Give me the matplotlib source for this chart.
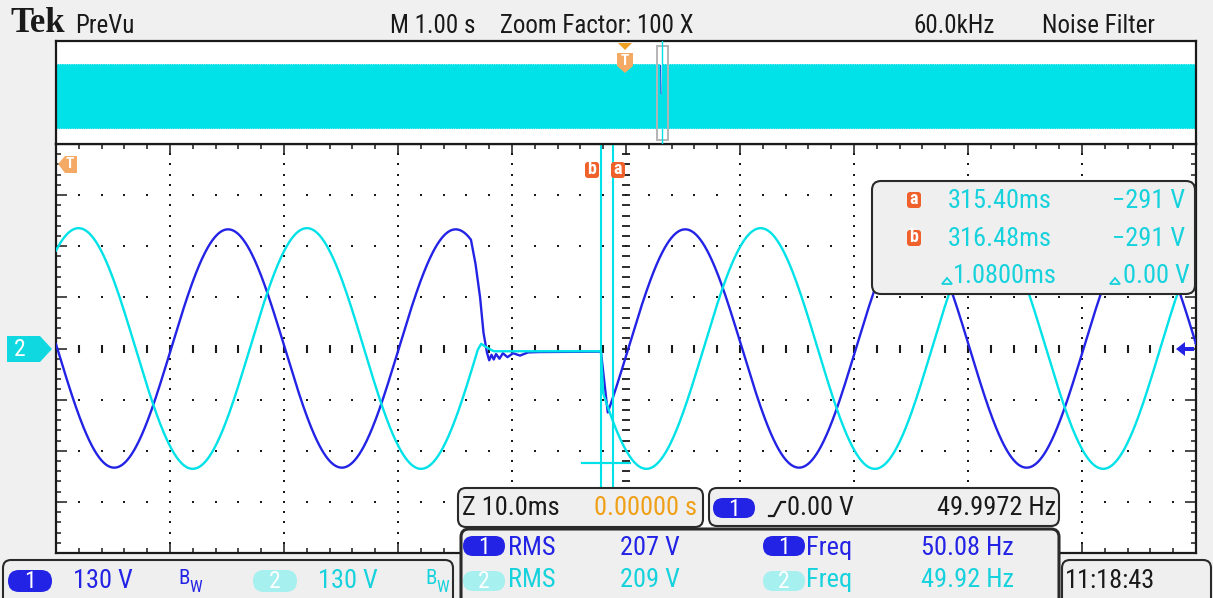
"""
Tek PreVu screen: two 50 Hz channels with a ~12 ms dropout, zoomed 100x.
"""

import numpy as np
import matplotlib
matplotlib.use('Agg')
import matplotlib.pyplot as plt
from matplotlib.patches import FancyBboxPatch, Polygon, Rectangle
from matplotlib import font_manager

# ── signal data (time in ms after trigger, volts) ─────────────────────────
ZOOM_SPAN_MS = [267.6, 367.6]        # 10 div x 10.0 ms
RECORD_SPAN_MS = [-5000.0, 5000.0]   # 10 div x 1.00 s
MS_PER_DIV = 10.0
VOLTS_PER_DIV = 130.0

CH1_FREQ_HZ = 50.08
CH1_PEAK_V = 303.0
CH1_ZERO_UP_MS = [277.7, 317.8]                  # rising zero, before / after dropout
CH1_SINE_SPANS_MS = [(-5000.0, 304.0), (316.0, 5000.0)]
CH1_GAP_T_MS = [304.4, 304.8, 305.1, 305.4, 305.6, 305.8, 306.0, 306.2, 306.5,
                306.8, 307.2, 307.7, 308.3, 309.0, 310.0, 315.4]
CH1_GAP_V = [215, 130, 40, -10, -30, -16, -28, -14, -26, -12, -22, -12, -18,
             -10, -9, -8]

CH2_FREQ_HZ = 49.92
CH2_PEAK_V = 306.0
CH2_ZERO_UP_MS = [284.6, 324.4]
CH2_SINE_SPANS_MS = [(-5000.0, 304.6), (315.6, 5000.0)]
CH2_GAP_T_MS = [304.9, 305.3, 306.0, 315.4]
CH2_GAP_V = [12, 4, -7, -7]

CURSOR_T_MS = [315.40, 316.48]
CURSOR_V = [-291.0, -291.0]

CH1_RMS_V, CH2_RMS_V = 207, 209
TRIG_FREQ_HZ = 49.9972

# ── style ─────────────────────────────────────────────────────────────────
W, H = 1213, 598
BG = '#f0f0f0'
BOX = '#efefef'
INK = '#1a1a1a'
CH1 = '#2323e6'
CH2 = '#00e2e8'
CH2_TXT = '#16d2dc'
CH2_PILL = '#a6f0f0'
CURS_ICON = '#f0602a'
TRIG_ORANGE = '#f4aa64'
TIME_ORANGE = '#f0a018'

_names = {f.name for f in font_manager.fontManager.ttflist}
UI_FONT = next((n for n in ['Liberation Sans Narrow', 'Roboto Condensed',
                            'Liberation Sans'] if n in _names), 'DejaVu Sans')
FAM = [UI_FONT, 'DejaVu Sans']


def trace(freq, peak, zero_up, spans, gap_t, gap_v, t0, t1, step):
    """Sine pieces joined by the sampled dropout points."""
    pieces_t, pieces_v = [], []
    for i, ((a, b), z) in enumerate(zip(spans, zero_up)):
        lo, hi = max(a, t0), min(b, t1)
        if lo < hi:
            t = np.append(np.arange(lo, hi, step), hi)
            pieces_t.append(t)
            pieces_v.append(peak * np.sin(2 * np.pi * freq * (t - z) / 1000.0))
        if i == 0:
            pieces_t.append(np.asarray(gap_t, float))
            pieces_v.append(np.asarray(gap_v, float))
    return np.concatenate(pieces_t), np.concatenate(pieces_v)


fig = plt.figure(figsize=(W / 100, H / 100), dpi=100)
fig.patch.set_facecolor(BG)

# ── zoomed window ─────────────────────────────────────────────────────────
ax = fig.add_axes([56 / W, 1 - 553 / H, 1140 / W, 409 / H])
x0, x1 = ZOOM_SPAN_MS
ax.set_xlim(x0, x1)
ax.set_ylim(-4 * VOLTS_PER_DIV, 4 * VOLTS_PER_DIV)
ax.set_facecolor('white')
for s in ax.spines.values():
    s.set_linewidth(1.6)
    s.set_color(INK)

ax.set_xticks(x0 + MS_PER_DIV * np.arange(11))
ax.set_xticks(x0 + MS_PER_DIV / 5 * np.arange(51), minor=True)
ax.set_yticks(VOLTS_PER_DIV * np.arange(-4, 5))
ax.set_yticks(VOLTS_PER_DIV / 5 * np.arange(-20, 21), minor=True)
ax.tick_params(which='both', direction='in', top=True, right=True,
               labelbottom=False, labelleft=False, color=INK, width=1.1)
ax.tick_params(which='major', length=8)
ax.tick_params(which='minor', length=3.5)

# dotted graticule, dashed centre axes
minor_x = x0 + MS_PER_DIV / 5 * np.arange(1, 50)
minor_y = VOLTS_PER_DIV / 5 * np.arange(-19, 20)
for k in range(1, 10):
    gx = x0 + MS_PER_DIV * k
    if k == 5:
        ax.plot(np.full_like(minor_y, gx), minor_y, ls='none', marker='_',
                ms=5.5, mew=1.3, color=INK, zorder=1)
    else:
        ax.plot(np.full_like(minor_y, gx), minor_y, ls='none', marker='s',
                ms=1.5, mew=0, color=INK, zorder=1)
for m in range(-3, 4):
    gy = VOLTS_PER_DIV * m
    if m == 0:
        ax.plot(minor_x, np.full_like(minor_x, gy), ls='none', marker='|',
                ms=5.5, mew=1.5, color=INK, zorder=1)
    else:
        ax.plot(minor_x, np.full_like(minor_x, gy), ls='none', marker='s',
                ms=1.5, mew=0, color=INK, zorder=1)

t1_ms, v1 = trace(CH1_FREQ_HZ, CH1_PEAK_V, CH1_ZERO_UP_MS, CH1_SINE_SPANS_MS,
                  CH1_GAP_T_MS, CH1_GAP_V, x0, x1, 0.05)
t2_ms, v2 = trace(CH2_FREQ_HZ, CH2_PEAK_V, CH2_ZERO_UP_MS, CH2_SINE_SPANS_MS,
                  CH2_GAP_T_MS, CH2_GAP_V, x0, x1, 0.05)
ax.plot(t1_ms, v1, color=CH1, lw=1.7, zorder=3)
ax.plot(t2_ms, v2, color=CH2, lw=1.7, zorder=4)

# cursors
for ct in CURSOR_T_MS:
    ax.axvline(ct, color=CH2, lw=1.5, zorder=5)
for cv in CURSOR_V:
    ax.plot([CURSOR_T_MS[0] - 1.7, CURSOR_T_MS[1] + 1.5], [cv, cv],
            color=CH2, lw=1.5, zorder=5)

# ── PreVu overview strip ──────────────────────────────────────────────────
ov = fig.add_axes([56 / W, 1 - 144 / H, 1140 / W, 103 / H])
ov.set_xlim(RECORD_SPAN_MS)
ov.set_ylim(-461, 539)
ov.set_xticks([])
ov.set_yticks([])
ov.set_facecolor('white')
for s in ov.spines.values():
    s.set_linewidth(1.6)
    s.set_color(INK)
o1_t, o1_v = trace(CH1_FREQ_HZ, CH1_PEAK_V, CH1_ZERO_UP_MS, CH1_SINE_SPANS_MS,
                   CH1_GAP_T_MS, CH1_GAP_V, *RECORD_SPAN_MS, 0.25)
o2_t, o2_v = trace(CH2_FREQ_HZ, CH2_PEAK_V, CH2_ZERO_UP_MS, CH2_SINE_SPANS_MS,
                   CH2_GAP_T_MS, CH2_GAP_V, *RECORD_SPAN_MS, 0.25)
ov.plot(o1_t, o1_v, color=CH1, lw=0.8)
ov.plot(o2_t, o2_v, color=CH2, lw=1.6)
ov.add_patch(Rectangle((x0, -422), x1 - x0, 912, fill=False,
                       edgecolor='#b4b4b4', lw=1.4, zorder=5))
ov.axvline((x0 + x1) / 2, color=CH2, lw=1.0, zorder=6)

# ── screen furniture (pixel coordinates) ──────────────────────────────────
ui = fig.add_axes([0, 0, 1, 1])
ui.set_xlim(0, W)
ui.set_ylim(H, 0)
ui.axis('off')
ui.set_zorder(10)
ui.patch.set_visible(False)


def txt(x, y, s, color=INK, size=19, ha='left', **kw):
    ui.text(x, y, s, color=color, fontsize=size, ha=ha, va='center',
            family=FAM, **kw)


def panel(x, y, w, h, r=8, lw=1.5):
    ui.add_patch(FancyBboxPatch((x, y), w, h,
                                boxstyle=f'round,pad=0,rounding_size={r}',
                                facecolor=BOX, edgecolor='#2a2a2a', lw=lw))


def pill(x, y, w, h, color, num):
    ui.add_patch(FancyBboxPatch((x, y), w, h,
                                boxstyle=f'round,pad=0,rounding_size={h / 2}',
                                facecolor=color, edgecolor='none'))
    txt(x + w / 2, y + h / 2 + 1, num, color='white', size=17, ha='center')


def delta(x, y, color):
    # small hollow triangle used by the scope for differences
    ui.add_patch(Polygon([(x, y + 5), (x + 10, y + 5), (x + 5, y - 1)],
                         closed=True, fill=False, edgecolor=color, lw=1.3))


# header
ui.text(10, 24, 'Tek', fontsize=25, fontweight='bold', color=INK,
        family=['Liberation Serif', 'DejaVu Serif'], va='center')
txt(75, 26, 'PreVu', size=18)
txt(390, 26, 'M 1.00 s', size=18)
txt(500, 26, 'Zoom Factor: 100 X', size=18)
txt(995, 26, '60.0kHz', size=18, ha='right')
txt(1155, 26, 'Noise Filter', size=18, ha='right')

# trigger position marker on the strip
ui.add_patch(Polygon([(618, 43), (632, 43), (625, 50)], closed=True,
                     facecolor='#f0a020', edgecolor='none'))
ui.add_patch(Polygon([(617, 53), (633, 53), (633, 66), (625, 73), (617, 66)],
                     closed=True, facecolor=TRIG_ORANGE, edgecolor='none'))
txt(625, 61, 'T', color='white', size=11, ha='center', fontweight='bold')

# trigger off-screen marker in the zoom window
ui.add_patch(Polygon([(58, 164), (65, 156), (77, 156), (77, 173), (65, 173)],
                     closed=True, facecolor=TRIG_ORANGE, edgecolor='none'))
txt(70, 164, 'T', color='white', size=11, ha='center', fontweight='bold')

# cursor tags
for cx, lab in [(592, 'b'), (618, 'a')]:
    ui.add_patch(FancyBboxPatch((cx - 7, 162), 14, 16,
                                boxstyle='round,pad=0,rounding_size=3',
                                facecolor=CURS_ICON, edgecolor='none'))
    txt(cx, 169, lab, color='white', size=13, ha='center', fontweight='bold')

# channel reference markers
ui.add_patch(Polygon([(7, 336), (40, 336), (52, 349), (40, 362), (7, 362)],
                     closed=True, facecolor='#10d8e0', edgecolor='none'))
txt(20, 350, '2', color='white', size=17, ha='center')
ui.add_patch(Polygon([(1176, 349), (1185, 342), (1185, 347), (1194, 347),
                      (1194, 351), (1185, 351), (1185, 356)],
                     closed=True, facecolor=CH1, edgecolor='none'))

# cursor readout
panel(872, 181, 323, 113, r=9)
for yy, lab, tval in [(200, 'a', CURSOR_T_MS[0]), (238, 'b', CURSOR_T_MS[1])]:
    ui.add_patch(FancyBboxPatch((907, yy - 8), 14, 16,
                                boxstyle='round,pad=0,rounding_size=3',
                                facecolor=CURS_ICON, edgecolor='none'))
    txt(914, yy - 1, lab, color='white', size=13, ha='center', fontweight='bold')
    txt(948, yy + 1, f'{tval:.2f}ms', color=CH2_TXT)
    txt(1185, yy + 1, f'\u2212{abs(CURSOR_V[0]):.0f} V', color=CH2_TXT, ha='right')
dt = CURSOR_T_MS[1] - CURSOR_T_MS[0]
dv = CURSOR_V[1] - CURSOR_V[0]
delta(942, 279, CH2_TXT)
txt(953, 276, f'{dt:.4f}ms', color=CH2_TXT)
delta(1110, 279, CH2_TXT)
txt(1190, 276, f'{abs(dv):.2f} V', color=CH2_TXT, ha='right')

# timebase / trigger readouts
panel(458, 488, 245, 39)
txt(462, 508, 'Z 10.0ms')
txt(697, 508, '0.00000 s', color=TIME_ORANGE, ha='right')
panel(709, 488, 350, 38)
pill(713, 498, 42, 20, CH1, '1')
ui.plot([769, 774, 781, 785], [516, 516, 502, 502], color=INK, lw=1.6)
txt(787, 508, '0.00 V')
txt(1056, 508, f'{TRIG_FREQ_HZ:.4f} Hz', ha='right')

# measurements
panel(461, 529, 598, 80, lw=2.2)
pill(463, 536, 42, 20, CH1, '1')
txt(508, 548, 'RMS', color=CH1)
txt(620, 548, f'{CH1_RMS_V} V', color=CH1)
pill(763, 536, 42, 20, CH1, '1')
txt(806, 548, 'Freq', color=CH1)
txt(921, 548, f'{CH1_FREQ_HZ:.2f} Hz', color=CH1)
pill(463, 571, 42, 20, CH2_PILL, '2')
txt(508, 580, 'RMS', color=CH2_TXT)
txt(620, 580, f'{CH2_RMS_V} V', color=CH2_TXT)
pill(763, 571, 42, 20, CH2_PILL, '2')
txt(806, 580, 'Freq', color=CH2_TXT)
txt(921, 580, f'{CH2_FREQ_HZ:.2f} Hz', color=CH2_TXT)

# vertical settings
panel(3, 560, 450, 50)
pill(8, 570, 44, 22, CH1, '1')
txt(73, 581, f'{VOLTS_PER_DIV:.0f} V', color=CH1)
txt(178, 579, 'B', color=CH1, size=15)
txt(189, 588, 'W', color=CH1, size=12)
pill(253, 570, 44, 22, CH2_PILL, '2')
txt(318, 581, f'{VOLTS_PER_DIV:.0f} V', color=CH2_TXT)
txt(425, 579, 'B', color=CH2_TXT, size=15)
txt(436, 588, 'W', color=CH2_TXT, size=12)

# clock
panel(1062, 560, 149, 50)
txt(1065, 581, '11:18:43')

fig.savefig('out.png', dpi=100, facecolor=BG)
